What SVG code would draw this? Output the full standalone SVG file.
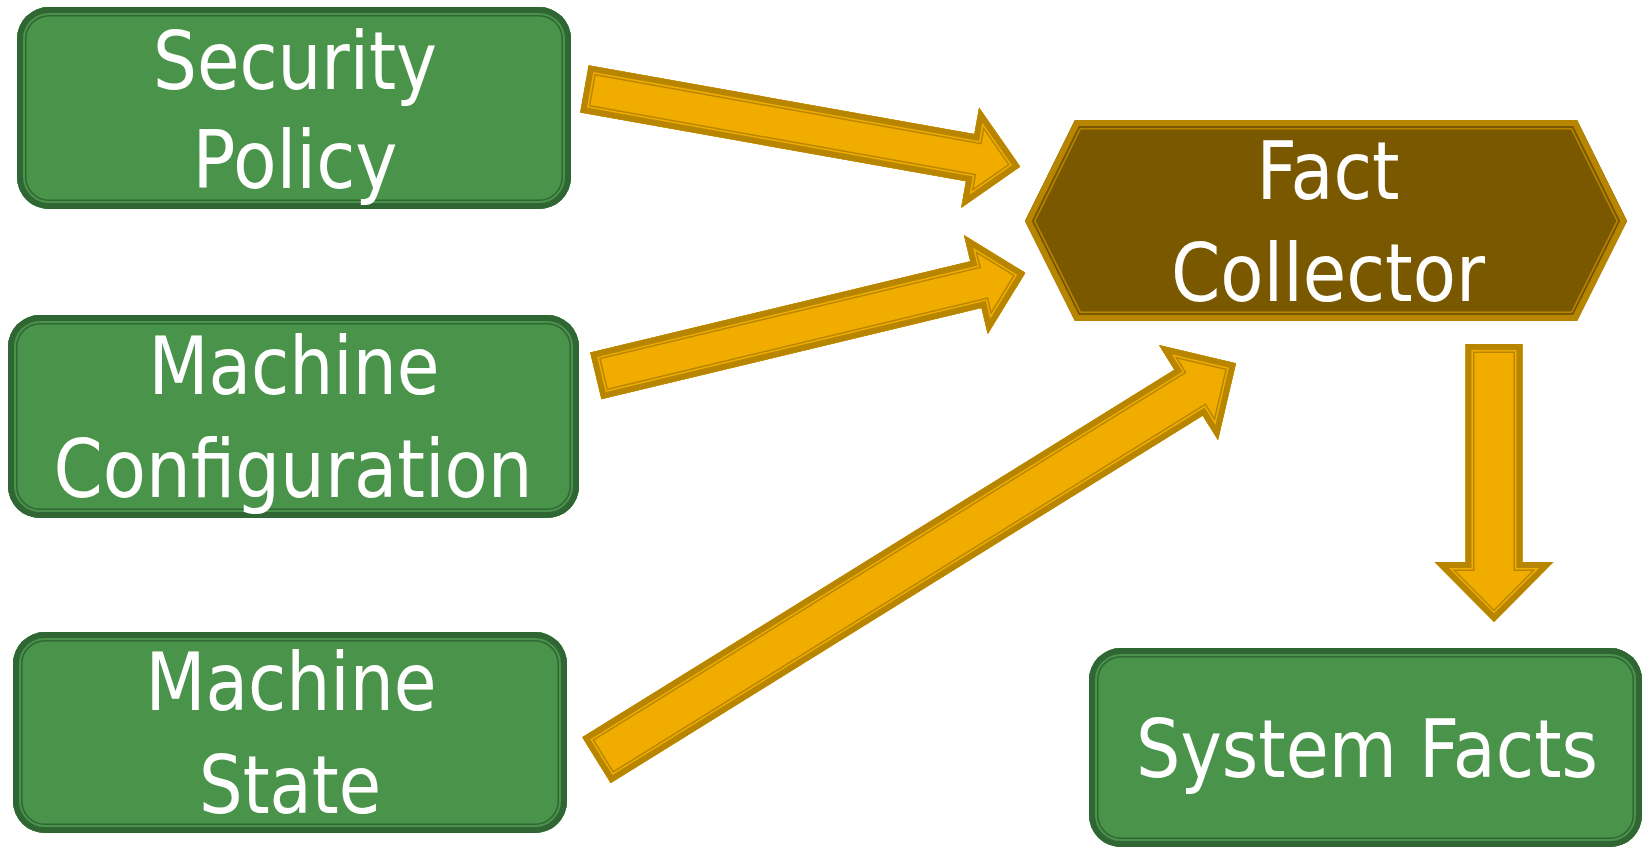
<svg xmlns="http://www.w3.org/2000/svg" xmlns:xlink="http://www.w3.org/1999/xlink" width="1644" height="848" viewBox="0 0 1644 848">
<style>
.g0{fill:#4a934a;stroke:#2f6633;stroke-width:19}
.g1{fill:none;stroke:#4a934a;stroke-width:16}
.g2{fill:none;stroke:#2f6633;stroke-width:12}
.a0{fill:#f0ad00;stroke:#b88500;stroke-width:18}
.a1{fill:none;stroke:#f0ad00;stroke-width:15}
.a2{fill:none;stroke:#b88500;stroke-width:12}
.h0{fill:#7a5800;stroke:#b88500;stroke-width:19}
.h1{fill:none;stroke:#7a5800;stroke-width:16}
.h2{fill:none;stroke:#b88500;stroke-width:12}
text{font-family:"DejaVu Sans","Liberation Sans",sans-serif;font-size:80px;fill:#ffffff;text-anchor:middle}
</style>
<defs>
<rect id="s-sp" x="17" y="7" width="554" height="202" rx="32"/>
<rect id="s-mc" x="8" y="315" width="571" height="203" rx="32"/>
<rect id="s-ms" x="13" y="632" width="554" height="201" rx="32"/>
<rect id="s-sf" x="1089" y="648" width="553" height="199" rx="32"/>
<polygon id="s-fc" points="1025,221 1075,120 1577,120 1627,221 1577,321 1075,321"/>
<path id="s-a1" d="M0,-24 H392 V-51 L443,0 L392,51 V24 H0 Z"/>
<path id="s-a2" d="M0,-24 H391 V-51 L442,0 L391,51 V24 H0 Z"/>
<path id="s-a3" d="M0,-27 H697 V-56 L753,0 L697,56 V27 H0 Z"/>
<path id="s-a4" d="M0,-28.5 H218 V-59.5 L278,0 L218,59.5 V28.5 H0 Z"/>
<clipPath id="c-sp"><use xlink:href="#s-sp"/></clipPath>
<clipPath id="c-mc"><use xlink:href="#s-mc"/></clipPath>
<clipPath id="c-ms"><use xlink:href="#s-ms"/></clipPath>
<clipPath id="c-sf"><use xlink:href="#s-sf"/></clipPath>
<clipPath id="c-fc"><use xlink:href="#s-fc"/></clipPath>
<clipPath id="c-a1"><use xlink:href="#s-a1"/></clipPath>
<clipPath id="c-a2"><use xlink:href="#s-a2"/></clipPath>
<clipPath id="c-a3"><use xlink:href="#s-a3"/></clipPath>
<clipPath id="c-a4"><use xlink:href="#s-a4"/></clipPath>
</defs>
<rect x="0" y="0" width="1644" height="848" fill="#ffffff"/>

<g id="connectors">
<g id="arrow-security-fact" transform="translate(584.2,88.8) rotate(10.12)">
<g clip-path="url(#c-a1)"><use xlink:href="#s-a1" class="a0"/><use xlink:href="#s-a1" class="a1"/><use xlink:href="#s-a1" class="a2"/></g>
</g>
<g id="arrow-config-fact" transform="translate(595.6,375.9) rotate(-13.49)">
<g clip-path="url(#c-a2)"><use xlink:href="#s-a2" class="a0"/><use xlink:href="#s-a2" class="a1"/><use xlink:href="#s-a2" class="a2"/></g>
</g>
<g id="arrow-state-fact" transform="translate(596.3,760.3) rotate(-31.83)">
<g clip-path="url(#c-a3)"><use xlink:href="#s-a3" class="a0"/><use xlink:href="#s-a3" class="a1"/><use xlink:href="#s-a3" class="a2"/></g>
</g>
<g id="arrow-fact-system" transform="translate(1494,344) rotate(90)">
<g clip-path="url(#c-a4)"><use xlink:href="#s-a4" class="a0"/><use xlink:href="#s-a4" class="a1"/><use xlink:href="#s-a4" class="a2"/></g>
</g>
</g>

<g id="security-policy">
<g clip-path="url(#c-sp)"><use xlink:href="#s-sp" class="g0"/><use xlink:href="#s-sp" class="g1"/><use xlink:href="#s-sp" class="g2"/></g>
<text x="295" y="89" textLength="284" lengthAdjust="spacingAndGlyphs">Security</text>
<text x="295" y="188" textLength="205" lengthAdjust="spacingAndGlyphs">Policy</text>
</g>

<g id="machine-configuration">
<g clip-path="url(#c-mc)"><use xlink:href="#s-mc" class="g0"/><use xlink:href="#s-mc" class="g1"/><use xlink:href="#s-mc" class="g2"/></g>
<text x="294" y="394" textLength="291" lengthAdjust="spacingAndGlyphs">Machine</text>
<text x="293" y="497" textLength="479" lengthAdjust="spacingAndGlyphs">Configuration</text>
</g>

<g id="machine-state">
<g clip-path="url(#c-ms)"><use xlink:href="#s-ms" class="g0"/><use xlink:href="#s-ms" class="g1"/><use xlink:href="#s-ms" class="g2"/></g>
<text x="291" y="710" textLength="291" lengthAdjust="spacingAndGlyphs">Machine</text>
<text x="290" y="813" textLength="182" lengthAdjust="spacingAndGlyphs">State</text>
</g>

<g id="fact-collector">
<g clip-path="url(#c-fc)"><use xlink:href="#s-fc" class="h0"/><use xlink:href="#s-fc" class="h1"/><use xlink:href="#s-fc" class="h2"/></g>
<text x="1328" y="199" textLength="143" lengthAdjust="spacingAndGlyphs">Fact</text>
<text x="1328" y="301" textLength="314" lengthAdjust="spacingAndGlyphs">Collector</text>
</g>

<g id="system-facts">
<g clip-path="url(#c-sf)"><use xlink:href="#s-sf" class="g0"/><use xlink:href="#s-sf" class="g1"/><use xlink:href="#s-sf" class="g2"/></g>
<text x="1367" y="777" textLength="462" lengthAdjust="spacingAndGlyphs">System Facts</text>
</g>
</svg>
